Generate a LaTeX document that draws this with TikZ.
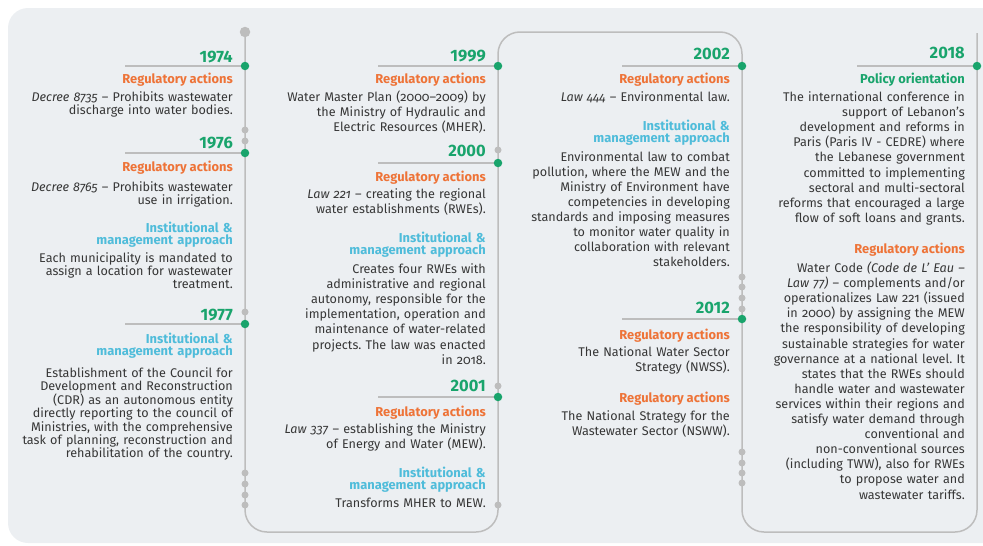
\documentclass[tikz,border=0pt]{standalone}
\usepackage{fontspec}
\setmainfont{Fira Sans}[Numbers=OldStyle]
\newfontfamily\yearfont{Fira Sans}[Numbers=Lining]
\usepackage{tikz}
\usetikzlibrary{positioning}
\usetikzlibrary{calc}
\frenchspacing

\definecolor{tlgreen}{HTML}{19A46C}
\definecolor{tlorange}{HTML}{EE7337}
\definecolor{tlblue}{HTML}{4FBCDA}
\definecolor{tltext}{HTML}{363636}
\definecolor{tlgray}{HTML}{BDBDBD}
\definecolor{tlback}{HTML}{ECEFF2}

\tikzstyle{year} = [font=\yearfont\bfseries\fontsize{16.5}{16.5}\selectfont, text=tlgreen, inner sep=0pt]
\tikzstyle{reg} = [font=\bfseries\fontsize{12.9}{12}\selectfont, text=tlorange, inner sep=0pt]
\tikzstyle{policy} = [reg, text=tlgreen]
\tikzstyle{inst} = [reg, text=tlblue, text width=200pt, align=right]
\tikzstyle{body} = [font=\fontsize{12.6}{15.1}\selectfont, text=tltext, text width=230pt, align=right, inner sep=0pt]
\tikzstyle{bodyA} = [body, font=\fontsize{12.6}{13.3}\selectfont]
\tikzstyle{rule} = [draw=tlgray, line width=1.3pt]
\tikzstyle{tline} = [draw=tlgray, line width=1.5pt, rounded corners=22pt]
\tikzstyle{gdot} = [circle, fill=tlgreen, inner sep=0pt, minimum size=8.5pt]
\tikzstyle{sdot} = [circle, fill=tlgray, inner sep=0pt, minimum size=7pt]

\begin{document}
\begin{tikzpicture}[x=1pt, y=1pt]

	\useasboundingbox (0,0) rectangle (983,-546);
	\fill[tlback, rounded corners=20pt] (8,-8) rectangle (1010,-543);

	% Timeline
	\node[sdot, minimum size=10.5pt] (top) at (245,-32) {};
	\draw[tline] (top.center) -- (245,-532) -- (498,-532) -- (498,-32) -- (742,-32)
	-- (742,-532) -- (977,-532) -- (977,-33);

	% Event points
	\coordinate (d1974) at (245,-66);
	\coordinate (d1976) at (245,-153);
	\coordinate (d1977) at (245,-324);
	\coordinate (d1999) at (498,-66);
	\coordinate (d2000) at (498,-163);
	\coordinate (d2001) at (498,-397);
	\coordinate (d2002) at (742,-66);
	\coordinate (d2012) at (742,-319);
	\coordinate (d2018) at (977,-66);

	% Rules and dots
	\foreach \e in {1974,1976,1977,1999,2000,2001,2002,2012,2018}{
		\coordinate[left = 120pt of d\e] (r\e);
		\draw[rule] (r\e) -- (d\e);
		\node[gdot] (g\e) at (d\e) {};
	}
	\foreach \y in {130,141,312,473,484,495,505}
		\node[sdot] (sa\y) at (245,-\y) {};
	\foreach \y in {150,386,505}
		\node[sdot] (sb\y) at (498,-\y) {};
	\foreach \y in {277,287,298,309,452,463,473,483}
		\node[sdot] (sc\y) at (742,-\y) {};

	% 1974
	\node[year, above left = 4pt and 12pt of d1974, anchor = base east] (y1974) {1974};
	\node[reg, below left = 17pt and 12pt of d1974, anchor = base east] (h1974) {Regulatory actions};
	\node[bodyA, below = 18pt of h1974.base east, anchor = base east] (t1974)
	{\textit{Decree 8735} – Prohibits wastewater\\ discharge into water bodies.};

	% 1976
	\node[year, above left = 5pt and 12pt of d1976, anchor = base east] (y1976) {1976};
	\node[reg, below left = 18pt and 12pt of d1976, anchor = base east] (h1976) {Regulatory actions};
	\node[bodyA, below = 20pt of h1976.base east, anchor = base east] (t1976)
	{\textit{Decree 8765} – Prohibits wastewater\\ use in irrigation.};
	\node[inst, below = 41pt of t1976.base east, anchor = base east] (i1976)
	{Institutional \&\\ management approach};
	\node[bodyA, below = 30pt of i1976.base east, anchor = base east] (m1976)
	{Each municipality is mandated to\\ assign a location for wastewater\\ treatment.};

	% 1977
	\node[year, above left = 4pt and 12pt of d1977, anchor = base east] (y1977) {1977};
	\node[inst, below left = 19pt and 12pt of d1977, anchor = base east] (i1977)
	{Institutional \&\\ management approach};
	\node[bodyA, below = 34pt of i1977.base east, anchor = base east] (t1977)
	{Establishment of the Council for\\ Development and Reconstruction\\ (CDR) as an autonomous entity\\
	directly reporting to the council of\\ Ministries, with the comprehensive\\
	task of planning, reconstruction and\\ rehabilitation of the country.};

	% 1999
	\node[year, above left = 5pt and 12pt of d1999, anchor = base east] (y1999) {1999};
	\node[reg, below left = 17pt and 12pt of d1999, anchor = base east] (h1999) {Regulatory actions};
	\node[body, below = 18.5pt of h1999.base east, anchor = base east] (t1999)
	{Water Master Plan (2000–2009) by\\ the Ministry of Hydraulic and\\ Electric Resources (MHER).};

	% 2000
	\node[year, above left = 7pt and 12pt of d2000, anchor = base east] (y2000) {2000};
	\node[reg, below left = 18pt and 12pt of d2000, anchor = base east] (h2000) {Regulatory actions};
	\node[body, below = 17.5pt of h2000.base east, anchor = base east] (t2000)
	{\textit{Law 221} – creating the regional\\ water establishments (RWEs).};
	\node[inst, below = 44pt of t2000.base east, anchor = base east] (i2000)
	{Institutional \&\\ management approach};
	\node[body, below = 31pt of i2000.base east, anchor = base east] (m2000)
	{Creates four RWEs with\\ administrative and regional\\ autonomy, responsible for the\\
	implementation, operation and\\ maintenance of water-related\\ projects. The law was enacted\\ in 2018.};

	% 2001
	\node[year, above left = 6pt and 12pt of d2001, anchor = base east] (y2001) {2001};
	\node[reg, below left = 19pt and 12pt of d2001, anchor = base east] (h2001) {Regulatory actions};
	\node[body, below = 17pt of h2001.base east, anchor = base east] (t2001)
	{\textit{Law 337} – establishing the Ministry\\ of Energy and Water (MEW).};
	\node[inst, below = 44pt of t2001.base east, anchor = base east] (i2001)
	{Institutional \&\\ management approach};
	\node[body, below = 30pt of i2001.base east, anchor = base east] (m2001)
	{Transforms MHER to MEW.};

	% 2002
	\node[year, above left = 7pt and 12pt of d2002, anchor = base east] (y2002) {2002};
	\node[reg, below left = 17pt and 12pt of d2002, anchor = base east] (h2002) {Regulatory actions};
	\node[body, below = 18.5pt of h2002.base east, anchor = base east] (t2002)
	{\textit{Law 444} – Environmental law.};
	\node[inst, below = 28.5pt of t2002.base east, anchor = base east] (i2002)
	{Institutional \&\\ management approach};
	\node[body, below = 31pt of i2002.base east, anchor = base east] (m2002)
	{Environmental law to combat\\ pollution, where the MEW and the\\ Ministry of Environment have\\
	competencies in developing\\ standards and imposing measures\\ to monitor water quality in\\
	collaboration with relevant\\ stakeholders.};

	% 2012
	\node[year, above left = 6pt and 12pt of d2012, anchor = base east] (y2012) {2012};
	\node[reg, below left = 20pt and 12pt of d2012, anchor = base east] (h2012) {Regulatory actions};
	\node[body, below = 17.5pt of h2012.base east, anchor = base east] (t2012)
	{The National Water Sector\\ Strategy (NWSS).};
	\node[reg, below = 46pt of t2012.base east, anchor = base east] (k2012) {Regulatory actions};
	\node[body, below = 17.5pt of k2012.base east, anchor = base east] (n2012)
	{The National Strategy for the\\ Wastewater Sector (NSWW).};

	% 2018
	\node[year, above left = 8pt and 12pt of d2018, anchor = base east] (y2018) {2018};
	\node[policy, below left = 17pt and 12pt of d2018, anchor = base east] (p2018) {Policy orientation};
	\node[body, below = 18.5pt of p2018.base east, anchor = base east] (t2018)
	{The international conference in\\ support of Lebanon’s\\ development and reforms in\\
	Paris (Paris IV - CEDRE) where\\ the Lebanese government\\ committed to implementing\\
	sectoral and multi-sectoral\\ reforms that encouraged a large\\ flow of soft loans and grants.};
	\node[reg, below = 152pt of t2018.base east, anchor = base east] (h2018) {Regulatory actions};
	\node[body, below = 19pt of h2018.base east, anchor = base east] (m2018)
	{Water Code \textit{(Code de L’ Eau –}\\ \textit{Law 77)} – complements and/or\\
	operationalizes Law 221 (issued\\ in 2000) by assigning the MEW\\
	the responsibility of developing\\ sustainable strategies for water\\
	governance at a national level. It\\ states that the RWEs should\\
	handle water and wastewater\\ services within their regions and\\
	satisfy water demand through\\ conventional and\\ non-conventional sources\\
	(including TWW), also for RWEs\\ to propose water and\\ wastewater tariffs.};

\end{tikzpicture}
\end{document}
